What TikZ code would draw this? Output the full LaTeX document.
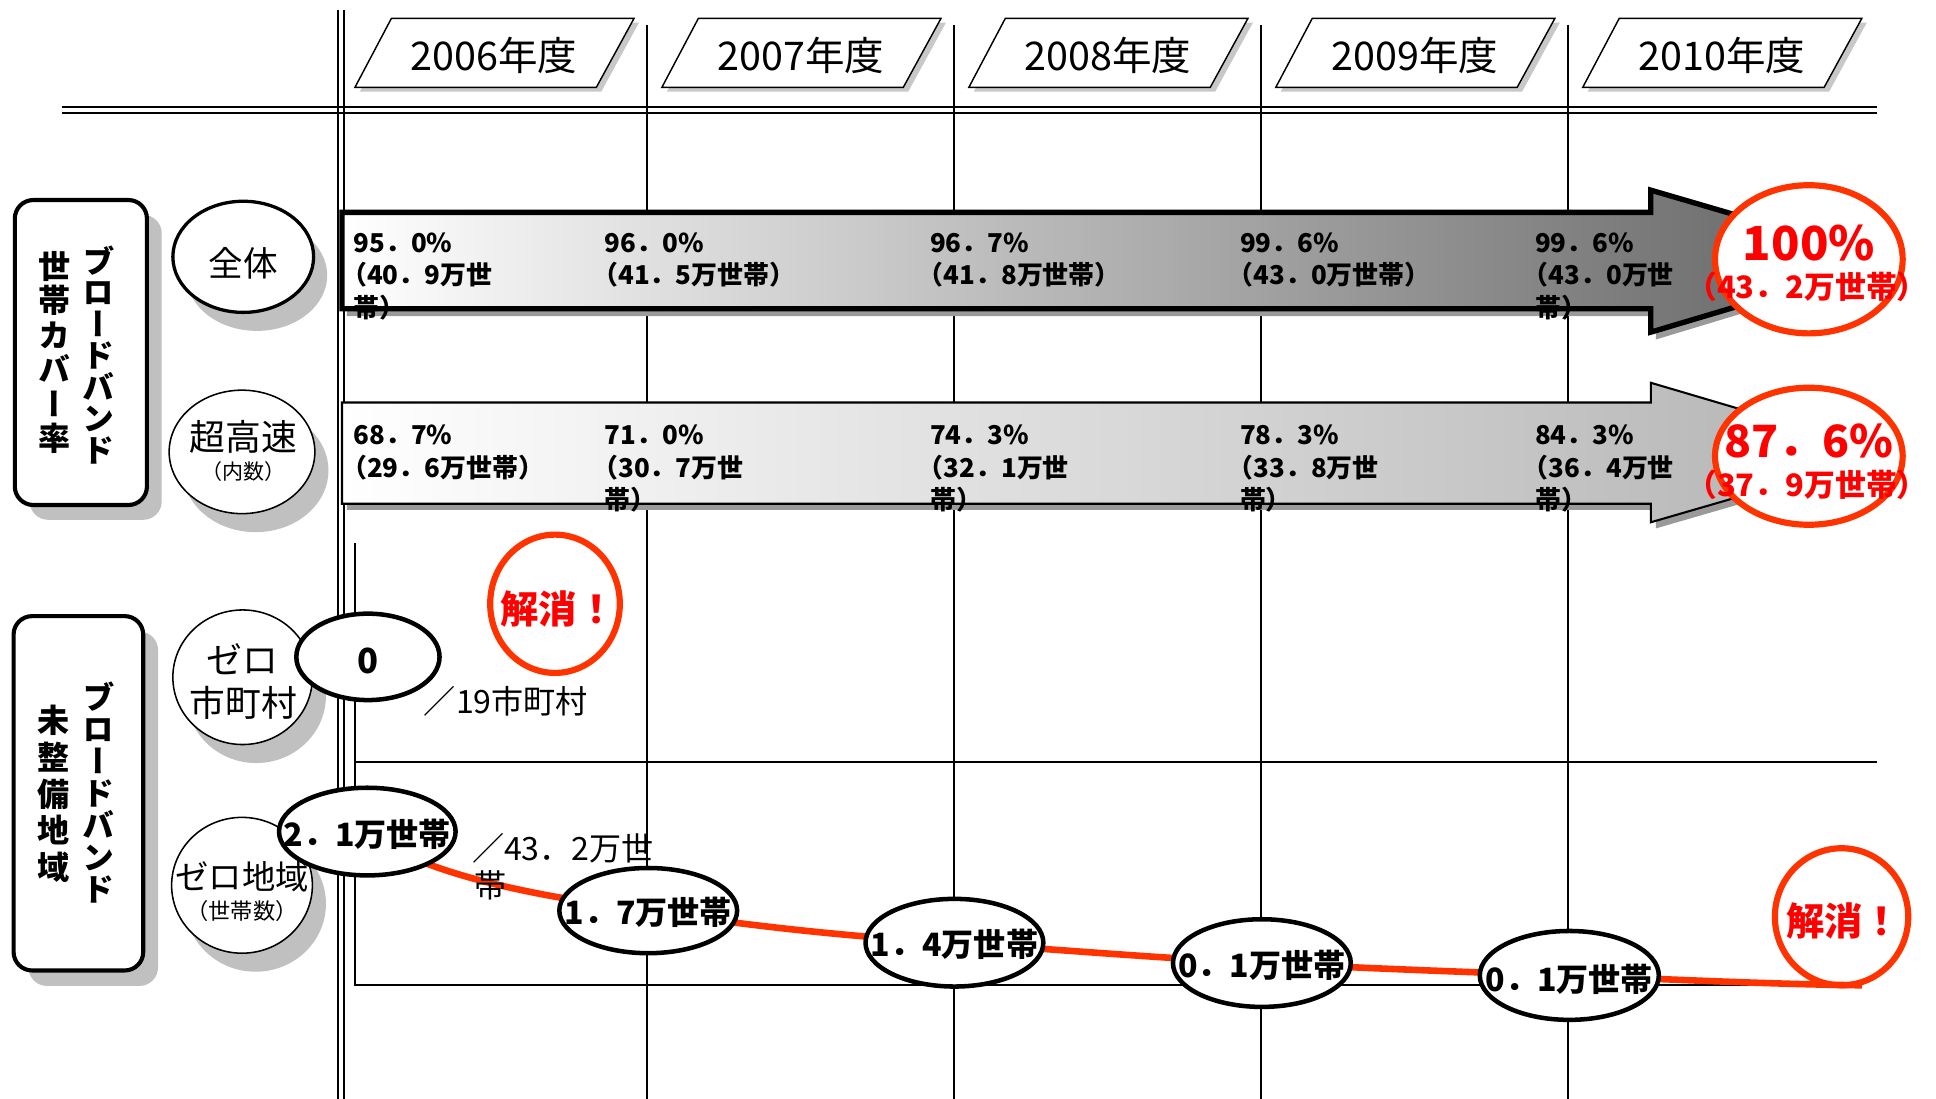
\documentclass[tikz,border=0pt]{standalone}
\usepackage{fontspec}
\setmainfont{Noto Sans CJK JP}
\newfontfamily\jpvert[RawFeature=+vert]{Noto Sans CJK JP}
\usetikzlibrary{shapes.geometric}
\definecolor{redline}{HTML}{FF3300}
\definecolor{redtext}{HTML}{FF0000}
\definecolor{shadegray}{HTML}{C0C0C0}
\definecolor{yshade}{HTML}{C8C8C8}
\definecolor{ashade}{HTML}{9A9A9A}
\newcommand{\fsz}[1]{\fontsize{#1}{#1}\selectfont}
\tikzset{
  gridline/.style={line width=0.9pt},
  yearbox/.style={draw, line width=0.7pt, fill=white},
  yearshadow/.style={fill=yshade},
  yeartext/.style={font=\fsz{19.2pt}, inner sep=0pt},
  sidebox/.style={rectangle, draw, line width=2pt, fill=white, rounded corners=9pt, inner sep=0pt},
  sideshadow/.style={rectangle, fill=shadegray, rounded corners=9pt, inner sep=0pt},
  vcol/.style={font={\jpvert\bfseries\fontsize{15.6pt}{#1}\selectfont}, align=center, inner sep=0pt},
  lblell/.style={ellipse, draw, fill=white, inner sep=0pt, line width=0.75pt},
  lblshadow/.style={ellipse, fill=shadegray, inner sep=0pt},
  lbltext/.style={inner sep=0pt},
  valell/.style={ellipse, draw, fill=white, inner sep=0pt, line width=2.2pt},
  valtext/.style={font=\bfseries\fsz{15.6pt}, inner sep=0pt},
  redell/.style={ellipse, draw=redline, inner sep=0pt, line width=3pt},
  redbig/.style={font=\bfseries\fsz{22.8pt}, text=redtext, inner sep=0pt},
  redsmall/.style={font=\bfseries\fsz{15pt}, text=redtext, inner sep=0pt},
  redmid/.style={font=\bfseries\fsz{18.6pt}, text=redtext, inner sep=0pt},
  atext/.style={font=\bfseries\fsz{12.6pt}, anchor=base west, inner sep=0pt},
  note/.style={font=\fsz{15.6pt}, anchor=west, inner sep=0pt},
  redcurve/.style={draw=redline, line width=3.2pt},
  arrowshadow/.style={fill=ashade},
}
\begin{document}
\begin{tikzpicture}[x=0.6pt,y=-0.6pt]
\useasboundingbox (0,0) rectangle (1568,890);
\fill[white] (0,0) rectangle (1568,890);

% ---------- grid ----------
\draw[gridline] (273.5,8) -- (273.5,890) (278.5,8) -- (278.5,890);
\draw[gridline] (50,87) -- (1520,87) (50,91.5) -- (1520,91.5);
\foreach \x in {524,772.6,1021.2,1269.8} \draw[gridline] (\x,20) -- (\x,890);
\draw[gridline] (287.5,440) -- (287.5,798) -- (1508,798);
\draw[gridline] (287.5,617) -- (1520,617);

% ---------- year headers ----------
\foreach \i/\yr in {0/2006,1/2007,2/2008,3/2009,4/2010}{
  \pgfmathsetmacro{\dx}{248.6*\i}
  \fill[yearshadow] ({291.5+\dx},74.2) -- ({321+\dx},18.4) -- ({517.5+\dx},18.4) -- ({487+\dx},74.2) -- cycle;
  \draw[yearbox] ({287.5+\dx},70.7) -- ({317+\dx},14.9) -- ({513.5+\dx},14.9) -- ({483+\dx},70.7) -- cycle;
  \node[yeartext] (yr\yr) at ({400+\dx},45) {\yr 年度};
}

% ---------- side boxes ----------
\node[sideshadow, minimum width=64.2pt, minimum height=148.2pt] (box1s) at (77.5,297.5) {};
\node[sidebox, minimum width=64.2pt, minimum height=148.2pt] (box1) at (65.5,285.5) {};
\node[vcol=15.3pt] (b1r) at (80,287.5) {ブ\\ロ\\ー\\ド\\バ\\ン\\ド};
\node[vcol=16.8pt] (b1l) at (44.5,285.5) {世\\帯\\カ\\バ\\ー\\率};

\node[sideshadow, minimum width=63pt, minimum height=172.2pt] (box2s) at (75.5,655) {};
\node[sidebox, minimum width=63pt, minimum height=172.2pt] (box2) at (63.5,642.5) {};
\node[vcol=15.6pt] (b2r) at (80,642) {ブ\\ロ\\ー\\ド\\バ\\ン\\ド};
\node[vcol=17.8pt] (b2l) at (43.5,643) {未\\整\\備\\地\\域};

% ---------- row label ellipses ----------
\node[lblshadow, minimum width=68.4pt, minimum height=54pt] (e1s) at (208,223) {};
\node[lblell, line width=1.6pt, minimum width=68.4pt, minimum height=54pt] (e1) at (197,208) {};
\node[lbltext, font=\fsz{16.8pt}] (e1t) at (197,213) {全体};

\node[lblshadow, minimum width=70.8pt, minimum height=60pt] (e2s) at (207,381) {};
\node[lblell, minimum width=70.8pt, minimum height=60pt] (e2) at (196,366) {};
\node[lbltext, font=\fsz{17.4pt}] (e2t1) at (197,354) {超高速};
\node[lbltext, font=\fsz{10.2pt}] (e2t2) at (197,382) {（内数）};

\node[lblshadow, minimum width=67.8pt, minimum height=65.4pt] (e3s) at (207.5,563.5) {};
\node[lblell, minimum width=67.8pt, minimum height=65.4pt] (e3) at (196.5,548.5) {};
\node[lbltext, font=\fsz{17.4pt}] (e3t1) at (196,534) {ゼロ};
\node[lbltext, font=\fsz{17.4pt}] (e3t2) at (197,569) {市町村};

\node[lblshadow, minimum width=68.4pt, minimum height=66pt] (e4s) at (207,732) {};
\node[lblell, minimum width=68.4pt, minimum height=66pt] (e4) at (196,717) {};
\node[lbltext, font=\fsz{16.2pt}] (e4t1) at (196,710) {ゼロ地域};
\node[lbltext, font=\fsz{10.8pt}] (e4t2) at (196,738) {（世帯数）};

% ---------- arrows ----------
\fill[arrowshadow] (281,177) -- (1341,177) -- (1341,159) -- (1536,216) -- (1341,275) -- (1341,256) -- (281,256) -- cycle;
\path[draw, line width=2.6pt, left color=white, right color=black!62] (277,172) -- (1337,172) -- (1337,154) -- (1532,211) -- (1337,269) -- (1337,250) -- (277,250) -- cycle;

\fill[arrowshadow] (281,332) -- (1341,332) -- (1341,316) -- (1534,372) -- (1341,428) -- (1341,413) -- (281,413) -- cycle;
\path[draw, line width=1pt, left color=white, right color=black!30] (277,326) -- (1337,326) -- (1337,310) -- (1530,367) -- (1337,423) -- (1337,408) -- (277,408) -- cycle;

% top arrow texts
\node[atext] (a1p) at (286,204.8) {95．0\%};
\node[atext] (a1v) at (276,230.8) {（40．9万世};
\node[atext] (a1w) at (286,257.3) {帯）};
\node[atext] (a2p) at (489.5,204.8) {96．0\%};
\node[atext] (a2v) at (479.5,230.8) {（41．5万世帯）};
\node[atext] (a3p) at (753,204.8) {96．7\%};
\node[atext] (a3v) at (743,230.8) {（41．8万世帯）};
\node[atext] (a4p) at (1004,204.8) {99．6\%};
\node[atext] (a4v) at (994,230.8) {（43．0万世帯）};
\node[atext] (a5p) at (1243,204.8) {99．6\%};
\node[atext] (a5v) at (1233,230.8) {（43．0万世};
\node[atext] (a5w) at (1243,257.3) {帯）};

% bottom arrow texts
\node[atext] (b1p) at (286,359.8) {68．7\%};
\node[atext] (b1v) at (276,386.8) {（29．6万世帯）};
\node[atext] (b2p) at (489.5,359.8) {71．0\%};
\node[atext] (b2v) at (479.5,386.8) {（30．7万世};
\node[atext] (b2w) at (489.5,412.8) {帯）};
\node[atext] (b3p) at (753,359.8) {74．3\%};
\node[atext] (b3v) at (743,386.8) {（32．1万世};
\node[atext] (b3w) at (753,412.8) {帯）};
\node[atext] (b4p) at (1004,359.8) {78．3\%};
\node[atext] (b4v) at (994,386.8) {（33．8万世};
\node[atext] (b4w) at (1004,412.8) {帯）};
\node[atext] (b5p) at (1243,359.8) {84．3\%};
\node[atext] (b5v) at (1233,386.8) {（36．4万世};
\node[atext] (b5w) at (1243,412.8) {帯）};

% red result circles on arrows
\node[redell, fill=white, minimum width=91.2pt, minimum height=72pt] (r100) at (1465,210) {};
\node[redbig] (r100a) at (1465,196.5) {100\%};
\node[redsmall] (r100b) at (1463.5,232) {（43．2万世帯）};
\node[redell, fill=white, minimum width=91.2pt, minimum height=66.6pt] (r876) at (1465,369.5) {};
\node[redbig, font=\bfseries\fsz{21.6pt}] (r876a) at (1465,357) {87．6\%};
\node[redsmall] (r876b) at (1463.5,392.7) {（37．9万世帯）};

% ---------- zero areas ----------
\coordinate (c0) at (298,532);
\coordinate (c21) at (297.5,673.5);
\coordinate (c17) at (525,737.5);
\coordinate (c14) at (773,763.5);
\coordinate (c01a) at (1022,780);
\coordinate (c01b) at (1271,790);
\coordinate (cend) at (1508,798);

\draw[redcurve] (c21) .. controls (330,700) and (400,722) .. (c17)
  .. controls (608,750) and (690,759) .. (c14)
  .. controls (856,769) and (939,776) .. (c01a)
  .. controls (1105,784) and (1188,787.5) .. (c01b)
  .. controls (1350,793) and (1429,797) .. (cend);

\node[valell, minimum width=69.6pt, minimum height=42pt] (v0) at (c0) {};
\node[valtext, font=\bfseries\fsz{16.8pt}] (v0t) at (298,535) {0};
\node[valell, minimum width=85.8pt, minimum height=42.6pt] (v21) at (c21) {};
\node[valtext] (v21t) at (297.5,676) {2．1万世帯};
\node[valell, minimum width=86.4pt, minimum height=41.4pt] (v17) at (c17) {};
\node[valtext] (v17t) at (525,739) {1．7万世帯};
\node[valell, minimum width=86.4pt, minimum height=42.6pt] (v14) at (c14) {};
\node[valtext] (v14t) at (773,765) {1．4万世帯};
\node[valell, minimum width=86.4pt, minimum height=42.6pt] (v01a) at (c01a) {};
\node[valtext] (v01at) at (1022,782) {0．1万世帯};
\node[valell, minimum width=87pt, minimum height=43.2pt] (v01b) at (c01b) {};
\node[valtext] (v01bt) at (1271,793) {0．1万世帯};

\node[redell, minimum width=63pt, minimum height=67.2pt] (k1) at (449.5,489) {};
\node[redmid] (k1t) at (452,493) {解消！};
\node[redell, minimum width=64.8pt, minimum height=66.6pt] (k2) at (1491.5,742.5) {};
\node[redmid] (k2t) at (1493,746) {解消！};

\node[note] (n19) at (343,568) {／19市町村};
\node[note] (n432) at (382,687) {／43．2万世};
\node[note] (n432b) at (384,717) {帯};

\end{tikzpicture}
\end{document}
